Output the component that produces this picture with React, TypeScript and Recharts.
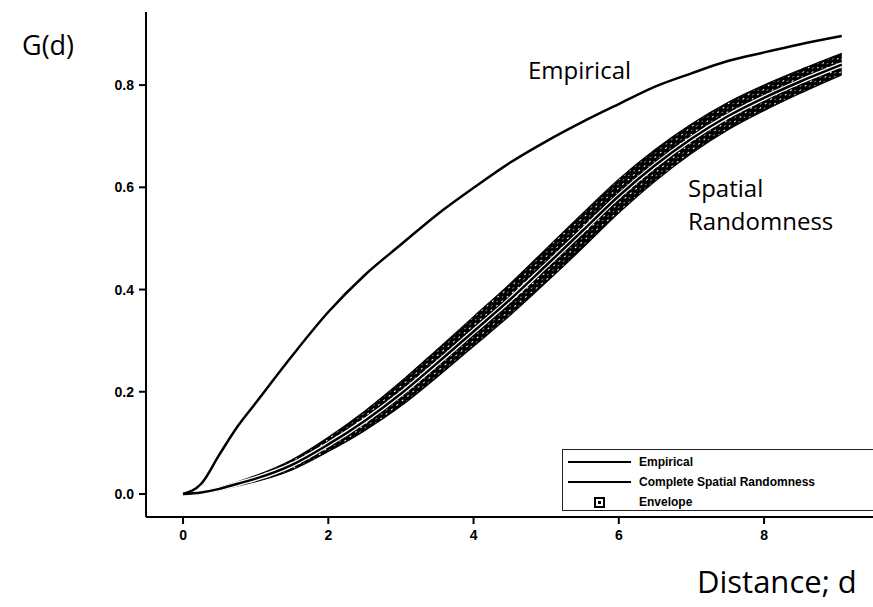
import React from 'react';
import { ComposedChart, Line, Area, XAxis, YAxis } from 'recharts';

const distances = [0, 0.25, 0.5, 0.75, 1, 1.5, 2, 2.5, 3, 3.5, 4, 4.5, 5, 5.5, 6, 6.5, 7, 7.5, 8, 8.5, 9.07];
const empirical = [0, 0.02, 0.077, 0.132, 0.178, 0.27, 0.356, 0.428, 0.488, 0.547, 0.599, 0.648, 0.69, 0.728, 0.763, 0.797, 0.823, 0.847, 0.864, 0.88, 0.896];
const csr = [0, 0.003, 0.01, 0.02, 0.03, 0.057, 0.097, 0.143, 0.196, 0.256, 0.318, 0.38, 0.447, 0.515, 0.583, 0.643, 0.695, 0.739, 0.775, 0.807, 0.84];
// outer edges of the simulation envelope
const envUpper = [0, 0.005, 0.013, 0.024, 0.036, 0.067, 0.111, 0.162, 0.22, 0.283, 0.347, 0.411, 0.48, 0.549, 0.616, 0.674, 0.724, 0.766, 0.8, 0.83, 0.862];
const envLower = [0, 0.001, 0.007, 0.016, 0.024, 0.047, 0.083, 0.124, 0.172, 0.229, 0.289, 0.349, 0.414, 0.481, 0.55, 0.612, 0.666, 0.712, 0.75, 0.784, 0.82];

const xTicks = [0, 2, 4, 6, 8];
const yTicks = [0, 0.2, 0.4, 0.6, 0.8];
const legendLines = ['Empirical', 'Complete Spatial Randomness'];

const data = distances.map((d, i) => ({
    d,
    empirical: empirical[i],
    csr: csr[i],
    envelope: [envLower[i], envUpper[i]]
}));

const tickStyle = { fontFamily: '"Liberation Sans", Arial, sans-serif', fontWeight: 700, fontSize: 14, fill: '#000' };
const labelFont = '"Open Sans", "Noto Sans", sans-serif';

const LegendBox = () => (
    <div style={{ position: 'absolute', left: 562, top: 449, width: 320, height: 62, border: '1px solid #222', background: '#fff', boxSizing: 'border-box', padding: '2px 0 0 5px', fontFamily: '"Liberation Sans", Arial, sans-serif', fontWeight: 700, fontSize: 12, color: '#000' }}>
        {legendLines.map((name) => (
            <div key={name} style={{ display: 'flex', alignItems: 'center', height: 20 }}>
                <div style={{ width: 63, height: 2, background: '#000', marginRight: 8 }} />
                <span>{name}</span>
            </div>
        ))}
        <div style={{ display: 'flex', alignItems: 'center', height: 20 }}>
            <div style={{ width: 63, marginRight: 8, display: 'flex', justifyContent: 'center' }}>
                <div style={{ width: 7, height: 7, border: '2px solid #000', position: 'relative' }}>
                    <div style={{ position: 'absolute', left: 2, top: 2, width: 3, height: 3, background: '#000' }} />
                </div>
            </div>
            <span>Envelope</span>
        </div>
    </div>
);

export default function App() {
    return (
        <div style={{ position: 'absolute', left: 0, top: 0, width: 873, height: 607, background: '#fff', overflow: 'hidden' }}>
            <ComposedChart width={873} height={607} data={data} margin={{ top: 12, right: 0, bottom: 0, left: 0 }}>
                <defs>
                    <pattern id="speckle" width="7" height="6" patternUnits="userSpaceOnUse" patternTransform="rotate(-40)">
                        <rect width="7" height="6" fill="#000" />
                        <rect x="1" y="1" width="2" height="1" fill="#fff" />
                        <rect x="4.5" y="4" width="1" height="1" fill="#fff" />
                    </pattern>
                </defs>
                <XAxis
                    dataKey="d"
                    type="number"
                    domain={[-0.51, 9.5]}
                    ticks={xTicks}
                    allowDataOverflow
                    stroke="#000"
                    strokeWidth={2}
                    tickSize={7}
                    tick={tickStyle}
                    tickMargin={6}
                    height={90}
                />
                <XAxis xAxisId="top" orientation="top" dataKey="d" type="number" domain={[-0.51, 9.5]} ticks={[]} stroke="#000" strokeWidth={2} height={0} />
                <YAxis
                    type="number"
                    domain={[-0.045, 0.943]}
                    ticks={yTicks}
                    allowDataOverflow
                    tickFormatter={(v) => v.toFixed(1)}
                    stroke="#000"
                    strokeWidth={2}
                    tickSize={7}
                    tick={tickStyle}
                    tickMargin={5}
                    width={146}
                />
                <Area dataKey="envelope" type="monotone" fill="url(#speckle)" fillOpacity={1} stroke="#000" strokeWidth={1.2} isAnimationActive={false} />
                <Line dataKey="csr" type="monotone" stroke="#fff" strokeWidth={5} dot={false} legendType="none" isAnimationActive={false} />
                <Line dataKey="csr" type="monotone" stroke="#000" strokeWidth={2.5} dot={false} isAnimationActive={false} />
                <Line dataKey="empirical" type="monotone" stroke="#000" strokeWidth={2.5} dot={false} isAnimationActive={false} />
            </ComposedChart>
            <LegendBox />
            <div style={{ position: 'absolute', left: 22, top: 26, fontFamily: labelFont, fontSize: 27, color: '#000' }}>G(d)</div>
            <div style={{ position: 'absolute', left: 528, top: 53, fontFamily: labelFont, fontSize: 24, color: '#000' }}>Empirical</div>
            <div style={{ position: 'absolute', left: 688, top: 171, fontFamily: labelFont, fontSize: 24, color: '#000', lineHeight: '33px' }}>Spatial<br />Randomness</div>
            <div style={{ position: 'absolute', left: 697, top: 560, fontFamily: labelFont, fontSize: 31, color: '#000' }}>Distance; d</div>
        </div>
    );
}
